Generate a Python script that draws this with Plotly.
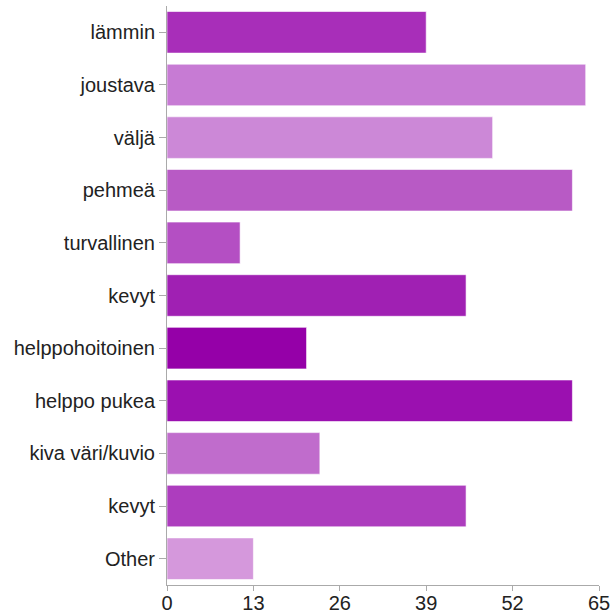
import plotly.graph_objects as go

categories = ["lämmin", "joustava", "väljä", "pehmeä", "turvallinen", "kevyt",
              "helppohoitoinen", "helppo pukea", "kiva väri/kuvio", "kevyt", "Other"]
values = [39, 63, 49, 61, 11, 45, 21, 61, 23, 45, 13]
colors = ["#a82eb9", "#c77bd4", "#cc88d7", "#b85ac5", "#b44fc3", "#a020b3",
          "#9500a8", "#9b10b0", "#c06ccc", "#ad3dbe", "#d598dc"]
x_ticks = [0, 13, 26, 39, 52, 65]

positions = list(range(len(categories)))

fig = go.Figure(go.Bar(
    x=values,
    y=positions,
    orientation="h",
    marker=dict(color=colors, line=dict(color="rgba(255,255,255,0.6)", width=1)),
    width=0.79,
))

fig.update_layout(
    width=614, height=616,
    margin=dict(l=167, r=15, t=6, b=31),
    plot_bgcolor="white", paper_bgcolor="white",
    showlegend=False,
    font=dict(family="Liberation Sans, Arial, sans-serif", size=20, color="#222"),
)
fig.update_xaxes(
    range=[0, 65], tickvals=x_ticks, ticktext=[str(t) for t in x_ticks],
    showgrid=False, zeroline=False, showline=True, linecolor="#aaa", linewidth=1,
    ticks="outside", ticklen=5, tickcolor="#aaa", tickfont=dict(size=20),
    ticklabelstandoff=-5,
    automargin=False,
)
fig.update_yaxes(
    range=[len(categories) - 0.5, -0.5], tickvals=positions, ticktext=categories,
    showgrid=False, zeroline=False, showline=True, linecolor="#aaa", linewidth=1,
    ticks="outside", ticklen=7, tickcolor="#aaa", tickfont=dict(size=20),
    automargin=False,
)

fig.write_html("out.html")
